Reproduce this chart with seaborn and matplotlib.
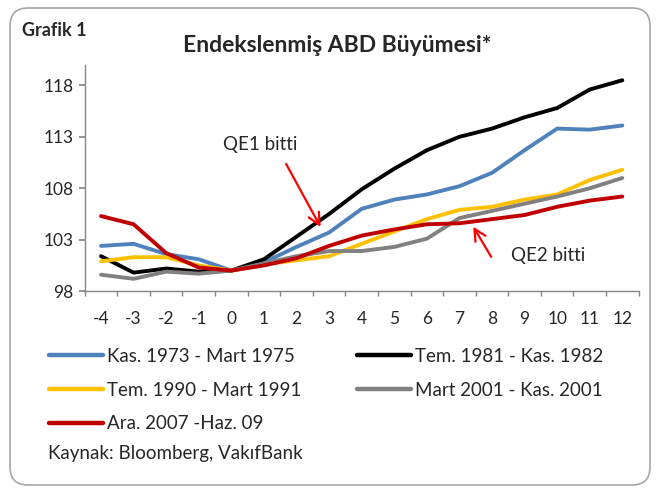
import pandas as pd
import matplotlib.pyplot as plt
import matplotlib.patches as mpatches
import seaborn as sns

# ── Data ───────────────────────────────────────────────────────────────────────
months = list(range(-4, 13))
kas_1973 = [102.4, 102.6, 101.6, 101.1, 100.0, 100.8, 102.3, 103.7, 106.0, 106.9,
            107.4, 108.2, 109.5, 111.7, 113.8, 113.7, 114.1]
tem_1981 = [101.4, 99.8, 100.2, 99.9, 100.0, 101.1, 103.3, 105.5, 107.9, 109.9,
            111.7, 113.0, 113.8, 114.9, 115.8, 117.6, 118.5]
tem_1990 = [100.9, 101.3, 101.3, 100.5, 100.0, 100.6, 101.0, 101.4, 102.6, 103.8,
            105.0, 105.9, 106.2, 106.9, 107.4, 108.8, 109.8]
mart_2001 = [99.6, 99.2, 99.9, 99.7, 100.0, 100.7, 101.4, 101.9, 101.9, 102.3,
             103.1, 105.1, 105.8, 106.5, 107.2, 108.0, 109.0]
ara_2007 = [105.3, 104.5, 101.7, 100.3, 100.0, 100.5, 101.2, 102.4, 103.4, 104.0,
            104.5, 104.6, 105.0, 105.4, 106.2, 106.8, 107.2]

series = {
    'Kas. 1973 - Mart 1975': kas_1973,
    'Tem. 1981 - Kas. 1982': tem_1981,
    'Tem. 1990 - Mart 1991': tem_1990,
    'Mart 2001 - Kas. 2001': mart_2001,
    'Ara. 2007 -Haz. 09': ara_2007,
}
palette = {
    'Kas. 1973 - Mart 1975': '#4F81BD',
    'Tem. 1981 - Kas. 1982': '#000000',
    'Tem. 1990 - Mart 1991': '#FFC000',
    'Mart 2001 - Kas. 2001': '#808080',
    'Ara. 2007 -Haz. 09': '#C00000',
}

df = pd.concat([pd.DataFrame({'ay': months, 'deger': v, 'donem': k})
                for k, v in series.items()], ignore_index=True)

# ── Style ──────────────────────────────────────────────────────────────────────
sns.set_theme(style='white')
plt.rcParams['font.family'] = ['Lato', 'DejaVu Sans']
plt.rcParams['axes.unicode_minus'] = False

fig = plt.figure(figsize=(6.57, 4.91), dpi=100)
ax = fig.add_axes([0.129, 0.407, 0.843, 0.461])

sns.lineplot(data=df, x='ay', y='deger', hue='donem', palette=palette,
             hue_order=list(series.keys()), linewidth=2.8, ax=ax, legend=False)

ax.set_xlim(-4.5, 12.5)
ax.set_ylim(98, 120)
ax.set_yticks([98, 103, 108, 113, 118])
ax.set_xticks(months)
ax.set_xticks([m + 0.5 for m in range(-5, 13)], minor=True)
ax.tick_params(axis='x', which='major', length=0, labelsize=12.5, pad=14.5)
ax.tick_params(axis='x', which='minor', length=3.5, color='#868686', direction='out')
ax.tick_params(axis='y', length=4, color='#868686', direction='out', labelsize=12.5, pad=4)
ax.tick_params(bottom=True, left=True, which='both')
ax.set_xlabel('')
ax.set_ylabel('')
for s in ['top', 'right']:
    ax.spines[s].set_visible(False)
for s in ['left', 'bottom']:
    ax.spines[s].set_color('#868686')
    ax.spines[s].set_linewidth(1)

# ── Annotations ────────────────────────────────────────────────────────────────
arrow = dict(arrowstyle='->,head_length=0.7,head_width=0.35', color='red', lw=1.6)
ax.annotate('', xy=(2.78, 104.0), xytext=(1.64, 110.6), arrowprops=arrow)
ax.text(0.88, 112.3, 'QE1 bitti', fontsize=13.5, ha='center', va='center')
ax.annotate('', xy=(7.38, 104.5), xytext=(8.02, 101.1), arrowprops=arrow)
ax.text(9.71, 101.5, 'QE2 bitti', fontsize=13.5, ha='center', va='center')

# ── Titles ─────────────────────────────────────────────────────────────────────
fig.text(0.513, 0.908, 'Endekslenmiş ABD Büyümesi*', fontsize=16.5, fontweight='bold',
         ha='center', va='center')
fig.text(0.034, 0.938, 'Grafik 1', fontsize=13, fontweight='bold', ha='left', va='center')

# ── Legend ─────────────────────────────────────────────────────────────────────
order = ['Kas. 1973 - Mart 1975', 'Tem. 1990 - Mart 1991', 'Ara. 2007 -Haz. 09',
         'Tem. 1981 - Kas. 1982', 'Mart 2001 - Kas. 2001']
handles = [plt.Line2D([], [], color=palette[k], lw=3.2) for k in order]
fig.legend(handles, order, ncol=2, loc='upper left', bbox_to_anchor=(0.0745, 0.292),
           frameon=False, fontsize=13.5, handlelength=2.9, handletextpad=0.2,
           labelspacing=0.9, columnspacing=2.95, borderpad=0, borderaxespad=0)
fig.text(0.073, 0.076, 'Kaynak: Bloomberg, VakıfBank', fontsize=13.5, ha='left', va='center')

# ── Border ─────────────────────────────────────────────────────────────────────
border = mpatches.FancyBboxPatch((10, 6), 640, 477, boxstyle='round,pad=0,rounding_size=18',
                                 transform=None, fill=False, edgecolor='#a6a6a6', lw=1.2)
fig.patches.append(border)

plt.savefig('out.png', dpi=100)
plt.close()
